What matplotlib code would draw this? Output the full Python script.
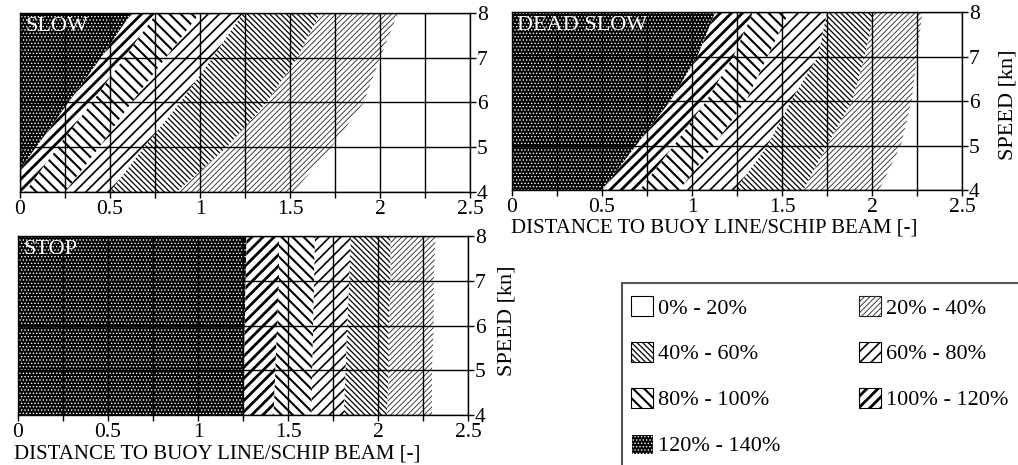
import matplotlib.pyplot as plt
from matplotlib.patches import Patch, Rectangle

plt.rcParams['font.family'] = ['Liberation Serif', 'DejaVu Serif']

W, H = 1018, 465

speeds = [4, 5, 6, 7, 8]

levels = ['120% - 140%', '100% - 120%', '80% - 100%', '60% - 80%',
          '40% - 60%', '20% - 40%', '0% - 20%']

# contour boundaries: distance where one level turns into the next, per speed
slow_edges = [
    [-0.09, 0.09, 0.27, 0.45, 0.62],
    [0.03, 0.21, 0.40, 0.58, 0.76],
    [0.25, 0.44, 0.62, 0.81, 1.00],
    [0.50, 0.69, 0.89, 1.07, 1.24],
    [0.87, 1.15, 1.37, 1.54, 1.67],
    [1.52, 1.73, 1.91, 2.00, 2.10],
]
dead_slow_edges = [
    [0.50, 0.69, 0.88, 1.03, 1.13],
    [0.71, 0.90, 1.08, 1.23, 1.34],
    [0.93, 1.12, 1.30, 1.42, 1.54],
    [1.24, 1.42, 1.55, 1.70, 1.75],
    [1.62, 1.75, 1.89, 1.96, 2.01],
    [2.04, 2.16, 2.22, 2.25, 2.28],
]
stop_edges = [
    [1.25, 1.255, 1.26, 1.265, 1.27],
    [1.42, 1.43, 1.44, 1.45, 1.45],
    [1.63, 1.635, 1.64, 1.645, 1.65],
    [1.81, 1.82, 1.83, 1.84, 1.85],
    [2.05, 2.06, 2.06, 2.07, 2.07],
    [2.30, 2.30, 2.31, 2.31, 2.32],
]

# face, hatch colour, hatch, hatch linewidth
styles = {
    '120% - 140%': ('black', 'white', '.....', 0.6),
    '100% - 120%': ('white', 'black', '///', 2.0),
    '80% - 100%': ('white', 'black', '\\\\\\', 1.5),
    '60% - 80%': ('white', 'black', '///', 1.2),
    '40% - 60%': ('white', 'black', '\\\\\\\\\\\\', 0.9),
    '20% - 40%': ('white', '#222222', '//////', 0.6),
    '0% - 20%': ('white', 'white', None, 0.5),
}


def set_hlw(artist, lw):
    if hasattr(artist, 'set_hatch_linewidth'):
        artist.set_hatch_linewidth(lw)
    else:
        artist._hatch_linewidth = lw


def px_axes(left, top, right, bottom):
    return fig.add_axes([left / W, 1 - bottom / H, (right - left) / W, (bottom - top) / H])


def draw_panel(ax, edges, name):
    bounds = [[0] * len(speeds)] + edges + [[2.5] * len(speeds)]
    for i, level in enumerate(levels):
        face, hc, hatch, hlw = styles[level]
        with plt.rc_context({'hatch.linewidth': hlw}):
            pc = ax.fill_betweenx(speeds, bounds[i], bounds[i + 1], facecolor=face,
                                  edgecolor=hc, hatch=hatch, linewidth=0, zorder=1)
        set_hlw(pc, hlw)
    ax.set_xlim(0, 2.5)
    ax.set_ylim(4, 8)
    ax.set_xticks([0, 0.5, 1, 1.5, 2, 2.5])
    ax.set_xticklabels(['0', '0.5', '1', '1.5', '2', '2.5'])
    ax.set_xticks([0.25, 0.75, 1.25, 1.75, 2.25], minor=True)
    ax.set_yticks([4, 5, 6, 7, 8])
    ax.yaxis.tick_right()
    ax.tick_params(axis='both', which='both', direction='out', length=4, width=1,
                   pad=1, labelsize=15.5, colors='black')
    ax.tick_params(axis='x', pad=1.5)
    ax.grid(True, which='both', color='black', linewidth=1, zorder=3)
    ax.set_axisbelow(False)
    for s in ax.spines.values():
        s.set_linewidth(1)
        s.set_zorder(4)
    ax.text(0.012, 0.975, name, transform=ax.transAxes, color='white',
            fontsize=16, ha='left', va='top', zorder=5)


fig = plt.figure(figsize=(W / 100, H / 100), dpi=100)

ax1 = px_axes(20, 13, 470, 192)
draw_panel(ax1, slow_edges, 'SLOW')

ax2 = px_axes(512, 12, 962, 190)
draw_panel(ax2, dead_slow_edges, 'DEAD SLOW')

ax3 = px_axes(18, 236, 468, 415)
draw_panel(ax3, stop_edges, 'STOP')

xlab = 'DISTANCE TO BUOY LINE/SCHIP BEAM [-]'
fig.text(714 / W, 1 - 228 / H, xlab, fontsize=15, ha='center', va='center')
fig.text(217 / W, 1 - 454 / H, xlab, fontsize=15, ha='center', va='center')
fig.text(1008 / W, 1 - 105 / H, 'SPEED [kn]', fontsize=16, rotation=90,
         ha='center', va='center')
fig.text(507 / W, 1 - 321 / H, 'SPEED [kn]', fontsize=16, rotation=90,
         ha='center', va='center')

# legend
handles = []
for level in levels:
    face, hc, hatch, hlw = styles[level]
    ec = 'black' if level == '0% - 20%' else hc
    with plt.rc_context({'hatch.linewidth': hlw}):
        p = Patch(facecolor=face, edgecolor=ec, hatch=hatch, linewidth=0.8)
    handles.append(p)

order = ['0% - 20%', '40% - 60%', '80% - 100%', '120% - 140%',
         '20% - 40%', '60% - 80%', '100% - 120%']
hmap = dict(zip(levels, handles))
leg = fig.legend([hmap[k] for k in order], order, ncol=2, loc='upper left',
                 bbox_to_anchor=(631 / W, 1 - 296 / H), frameon=False, fontsize=16,
                 handlelength=1.0, handleheight=1.0, handletextpad=0.2,
                 labelspacing=1.05, columnspacing=3.55, borderpad=0, borderaxespad=0)
for level, lh in zip(order, leg.legend_handles):
    set_hlw(lh, styles[level][3])

fig.patches.append(Rectangle((622 / W, -0.05), 0.5, (465 - 283) / H + 0.05,
                             transform=fig.transFigure, facecolor='none',
                             edgecolor='#555555', linewidth=1.5, clip_on=False))

fig.savefig('out.png', dpi=100)
